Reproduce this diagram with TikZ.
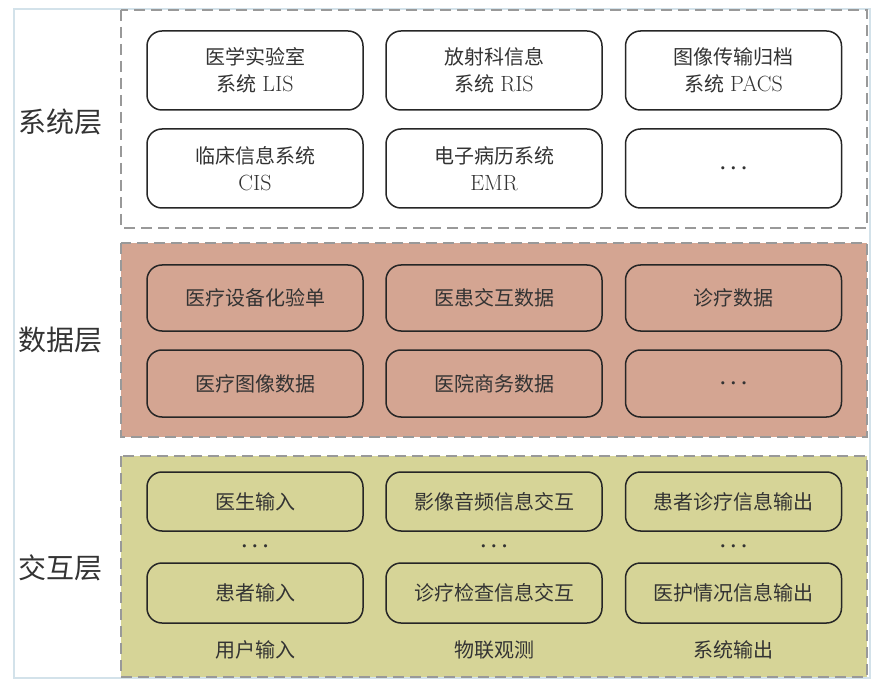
\documentclass[tikz,border=0pt]{standalone}
\usepackage{amsmath}
\usepackage{fontspec}
\newfontfamily\cjk{Noto Sans CJK SC}
\definecolor{framec}{HTML}{D3E2EA}
\definecolor{dashc}{HTML}{999999}
\definecolor{datafill}{HTML}{D4A592}
\definecolor{interfill}{HTML}{D6D497}
\definecolor{txt}{HTML}{333333}
\newcommand{\lat}[1]{{\fontsize{22}{27}\selectfont #1}}
\newcommand{\mydots}{$\boldsymbol{{\cdot}\mkern3mu{\cdot}\mkern3mu{\cdot}}$}
\begin{document}
\begin{tikzpicture}[x=1pt,y=-1pt,
  panel/.style={draw=dashc, line width=1.4pt, dash pattern=on 11pt off 6pt},
  boxn/.style={draw=black!85, line width=1.5pt, rounded corners=15pt,
    minimum width=216pt, align=center, text=txt, inner sep=0pt,
    font=\fontsize{20}{27}\selectfont},
  layerlbl/.style={text=txt, font=\fontsize{28}{32}\selectfont\cjk},
  plain/.style={text=txt, font=\fontsize{20}{27}\selectfont},
]
\useasboundingbox (0,0) rectangle (896,692);
% outer frame
\draw[framec, line width=2pt] (14,9) rectangle (870,678);
% panels
\draw[panel, fill=white] (121,10) rectangle (867,228);
\draw[panel, fill=datafill] (121,243) rectangle (867,437);
\draw[panel, fill=interfill] (121,456) rectangle (867,677);
% layer labels
\node[layerlbl] (l1) at (60,122) {系统层};
\node[layerlbl] (l2) at (60,340) {数据层};
\node[layerlbl] (l3) at (60,568) {交互层};
% system layer
\node[boxn, minimum height=79pt] (s11) at (255,70.5) {{\cjk 医学实验室}\\{\cjk 系统} \lat{LIS}};
\node[boxn, minimum height=79pt] (s12) at (494,70.5) {{\cjk 放射科信息}\\{\cjk 系统} \lat{RIS}};
\node[boxn, minimum height=79pt] (s13) at (733.5,70.5) {{\cjk 图像传输归档}\\{\cjk 系统} \lat{PACS}};
\node[boxn, minimum height=79pt] (s21) at (255,168.5) {{\cjk 临床信息系统}\\\lat{CIS}};
\node[boxn, minimum height=79pt] (s22) at (494,168.5) {{\cjk 电子病历系统}\\\lat{EMR}};
\node[boxn, minimum height=79pt] (s23) at (733.5,168.5) {\mydots};
% data layer
\node[boxn, minimum height=66pt] (d11) at (255,298) {\cjk 医疗设备化验单};
\node[boxn, minimum height=66pt] (d12) at (494,298) {\cjk 医患交互数据};
\node[boxn, minimum height=66pt] (d13) at (733.5,298) {\cjk 诊疗数据};
\node[boxn, minimum height=67pt] (d21) at (255,383.5) {\cjk 医疗图像数据};
\node[boxn, minimum height=67pt] (d22) at (494,383.5) {\cjk 医院商务数据};
\node[boxn, minimum height=67pt] (d23) at (733.5,383.5) {\mydots};
% interaction layer
\node[boxn, minimum height=59pt] (i11) at (255,501.5) {\cjk 医生输入};
\node[boxn, minimum height=59pt] (i12) at (494,501.5) {\cjk 影像音频信息交互};
\node[boxn, minimum height=59pt] (i13) at (733.5,501.5) {\cjk 患者诊疗信息输出};
\node[plain] (dots1) at (255,547) {\mydots};
\node[plain] (dots2) at (494,547) {\mydots};
\node[plain] (dots3) at (733.5,547) {\mydots};
\node[boxn, minimum height=60pt] (i21) at (255,593) {\cjk 患者输入};
\node[boxn, minimum height=60pt] (i22) at (494,593) {\cjk 诊疗检查信息交互};
\node[boxn, minimum height=60pt] (i23) at (733.5,593) {\cjk 医护情况信息输出};
\node[plain] (c1) at (255,650) {\cjk 用户输入};
\node[plain] (c2) at (494,650) {\cjk 物联观测};
\node[plain] (c3) at (733.5,650) {\cjk 系统输出};
\end{tikzpicture}
\end{document}
